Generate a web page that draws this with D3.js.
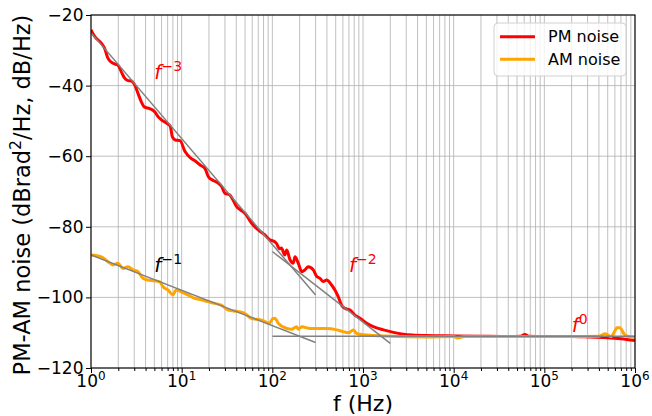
<!DOCTYPE html>
<html>
<head>
<meta charset="utf-8">
<script src="https://cdn.jsdelivr.net/npm/d3@7"></script>
<style>
  body { margin: 0; background: #fff; }
  text { font-family: "DejaVu Sans", sans-serif; }
</style>
</head>
<body>
<div id="chart"></div>
<script>
// PM noise (Hz, dB)
const pmFreq = [1, 1.1, 1.3, 1.41, 1.54, 1.75, 1.98, 2.16, 2.35, 2.56, 2.78, 3.03, 3.3, 3.59, 3.9, 4.44,
  5.04, 5.48, 6.22, 7.07, 7.5, 7.9, 8.5, 9.6, 10.9, 12.5, 14, 16, 18.1, 19.7, 22, 24.3, 27.6, 30, 34, 37,
  40.4, 45, 50, 59.1, 70, 82.8, 95, 102, 111, 120, 126, 137, 144, 157, 170, 178, 193, 211, 229, 249, 283,
  309, 336, 365, 397, 450, 490, 533, 580, 632, 718, 814, 928, 1100, 1300, 1680, 2160, 2780, 3500, 5000,
  1e4, 2e4, 4e4, 5.5e4, 6.1e4, 6.7e4, 1e5, 2e5, 3e5, 4.9e5, 7e5, 1e6];
const pmVal = [-24.2, -26.1, -28.0, -29.4, -32.3, -33.7, -34.2, -36.1, -37.9, -38.6, -38.7, -39.8, -42.2, -44.6, -46.1, -46.5,
  -47.4, -48.8, -50.0, -50.9, -51.6, -54.5, -55.4, -55.6, -58.7, -60.5, -61.3, -62.5, -63.5, -65.8, -66.8, -67.3, -68.6, -70.5, -71.0, -72.5,
  -74.3, -75.3, -76.2, -79.0, -80.9, -82.3, -83.8, -84.0, -84.7, -86.2, -86.0, -88.0, -86.6, -89.4, -90.3, -88.5, -90.3, -92.7, -92.2, -91.3, -92.2,
  -94.1, -94.6, -95.5, -95.1, -96.5, -97.9, -99.8, -102.2, -103.1, -103.6, -105.0, -105.9, -107.3, -108.3, -109.2, -109.9, -110.4, -110.65, -110.8,
  -110.9, -111.0, -111.1, -111.0, -110.5, -111.0, -111.1, -111.1, -111.2, -111.4, -111.7, -112.2];

// AM noise
const amFreq = [1, 1.3, 1.54, 1.75, 1.98, 2.25, 2.56, 2.9, 3.3, 3.74, 4.25, 5.04, 5.73, 6.22, 7.07, 8, 8.7,
  9.9, 11.7, 13.9, 16.5, 19.5, 23.1, 27.4, 32.5, 41.8, 49.4, 58.5, 75, 93, 101, 107, 116, 144, 163, 185, 193,
  211, 260, 397, 515, 600, 700, 780, 850, 1000, 2000, 5000, 1e4, 1.1e4, 1.3e4, 3e4, 1e5, 2e5, 4e5, 4.7e5,
  5.4e5, 6.0e5, 6.3e5, 6.8e5, 7.7e5, 8.5e5, 1e6];
const amVal = [-88.0, -88.5, -89.9, -90.8, -90.3, -91.8, -91.3, -92.2, -92.7, -94.6, -95.1, -95.3, -95.6, -97.0, -97.9, -99.3, -97.9,
  -98.4, -99.3, -100.3, -100.7, -101.2, -101.7, -102.2, -103.6, -104.0, -104.5, -105.9, -106.4, -107.3, -106.0, -105.9, -107.3, -108.8, -109.0, -108.3, -109.0,
  -108.3, -108.8, -108.8, -109.2, -109.7, -110.0, -109.2, -110.2, -110.6, -111.0, -111.2, -111.1, -111.5, -111.1, -111.1, -111.1, -111.1, -111.0, -110.3,
  -111.1, -109.5, -108.6, -108.6, -110.6, -111.1, -111.3];

// power-law guide lines: [fStart, fEnd, level at 1 Hz, slope dB/decade]
const fits = [
  [1, 300, -25, -30],
  [100, 2000, -47, -20],
  [1, 300, -88, -10],
  [100, 1e6, -111, 0]
];

// annotations: [f, dB, exponent, colour]
const notes = [
  [5, -38, "\u22123", "red"],
  [5, -92.7, "\u22121", "black"],
  [700, -92.7, "\u22122", "red"],
  [2e5, -109.7, "0", "red"]
];

const xMajor = [1, 10, 100, 1e3, 1e4, 1e5, 1e6];
const yTicks = [-120, -100, -80, -60, -40, -20];

const W = 652, H = 416;
const m = {top: 15, right: 17, bottom: 48, left: 91};
const w = W - m.left - m.right, h = H - m.top - m.bottom;

const x = d3.scaleLog().domain([1, 1e6]).range([0, w]);
const y = d3.scaleLinear().domain([-120, -20]).range([h, 0]);

const xMinor = [];
xMajor.slice(0, -1).forEach(d => { for (let k = 2; k < 10; k++) xMinor.push(d * k); });

const svg = d3.select('#chart').append('svg').attr('width', W).attr('height', H);
const g = svg.append('g').attr('transform', `translate(${m.left},${m.top})`);

// grid
g.append('g').selectAll('line').data(xMinor.concat(xMajor)).join('line')
  .attr('x1', d => x(d)).attr('x2', d => x(d)).attr('y1', 0).attr('y2', h)
  .attr('stroke', '#b0b0b0').attr('stroke-width', 0.8);
g.append('g').selectAll('line').data(yTicks).join('line')
  .attr('x1', 0).attr('x2', w).attr('y1', d => y(d)).attr('y2', d => y(d))
  .attr('stroke', '#b0b0b0').attr('stroke-width', 0.8);

svg.append('clipPath').attr('id', 'clip').append('rect').attr('width', w).attr('height', h);
const plot = g.append('g').attr('clip-path', 'url(#clip)');

const line = d3.line().x(d => x(d[0])).y(d => y(d[1])).curve(d3.curveMonotoneX);

plot.append('path').datum(d3.zip(pmFreq, pmVal)).attr('d', line)
  .attr('fill', 'none').attr('stroke', 'red').attr('stroke-width', 3).attr('stroke-linejoin', 'round');
plot.append('path').datum(d3.zip(amFreq, amVal)).attr('d', line)
  .attr('fill', 'none').attr('stroke', 'orange').attr('stroke-width', 3).attr('stroke-linejoin', 'round');

plot.selectAll('line.fit').data(fits).join('line').attr('class', 'fit')
  .attr('x1', d => x(d[0])).attr('x2', d => x(d[1]))
  .attr('y1', d => y(d[2] + d[3] * Math.log10(d[0])))
  .attr('y2', d => y(d[2] + d[3] * Math.log10(d[1])))
  .attr('stroke', 'gray').attr('stroke-width', 1.5);

// annotations
notes.forEach(([f, v, e, c]) => {
  const t = g.append('text').attr('x', x(f)).attr('y', y(v)).attr('fill', c).style('font-size', '20px');
  t.append('tspan').style('font-style', 'italic').text('f');
  t.append('tspan').attr('dy', -8).style('font-size', '14px').text(e);
});

// axes
const xAxis = g.append('g').attr('transform', `translate(0,${h})`)
  .call(d3.axisBottom(x).tickValues(xMajor).tickSize(5).tickFormat(''));
xAxis.append('g').call(d3.axisBottom(x).tickValues(xMinor).tickSize(3).tickFormat(''));
xAxis.selectAll('.domain').remove();
xAxis.selectAll('line').attr('stroke', '#000').attr('stroke-width', 1);
xAxis.selectAll('.xlab').data(xMajor).join('text').attr('class', 'xlab')
  .attr('x', d => x(d)).attr('y', 19).attr('text-anchor', 'middle').attr('fill', '#000')
  .style('font-size', '17px')
  .each(function (d) {
    const t = d3.select(this);
    t.append('tspan').text('10');
    t.append('tspan').attr('dy', -7.5).style('font-size', '12px').text(Math.round(Math.log10(d)));
  });

const yAxis = g.append('g')
  .call(d3.axisLeft(y).tickValues(yTicks).tickSize(5).tickPadding(2.5)
    .tickFormat(d => String(d).replace('-', '\u2212')));
yAxis.selectAll('.domain').remove();
yAxis.selectAll('text').style('font-size', '17px').attr('fill', '#000');
yAxis.selectAll('line').attr('stroke', '#000');

g.append('rect').attr('width', w).attr('height', h).attr('fill', 'none').attr('stroke', '#000').attr('stroke-width', 1.1);

// labels
svg.append('text').attr('x', m.left + w / 2).attr('y', 410.5).attr('text-anchor', 'middle')
  .style('font-size', '22px').text('f (Hz)');
const yl = svg.append('text').attr('transform', `translate(29.5,195) rotate(-90)`)
  .attr('text-anchor', 'middle').style('font-size', '22.5px');
yl.append('tspan').text('PM-AM noise (dBrad');
yl.append('tspan').attr('dy', -9).style('font-size', '15.7px').text('2');
yl.append('tspan').attr('dy', 9).text('/Hz, dB/Hz)');

// legend
const lg = svg.append('g').attr('transform', 'translate(494,23)');
lg.append('rect').attr('width', 132).attr('height', 53).attr('rx', 4)
  .attr('fill', 'white').attr('fill-opacity', 0.8).attr('stroke', '#d0d0d0');
[['PM noise', 'red'], ['AM noise', 'orange']].forEach(([name, c], i) => {
  const yy = 13.7 + i * 22.6;
  lg.append('line').attr('x1', 6).attr('x2', 41).attr('y1', yy).attr('y2', yy)
    .attr('stroke', c).attr('stroke-width', 3);
  lg.append('text').attr('x', 54).attr('y', yy + 5.7).style('font-size', '16px').text(name);
});
</script>
</body>
</html>
